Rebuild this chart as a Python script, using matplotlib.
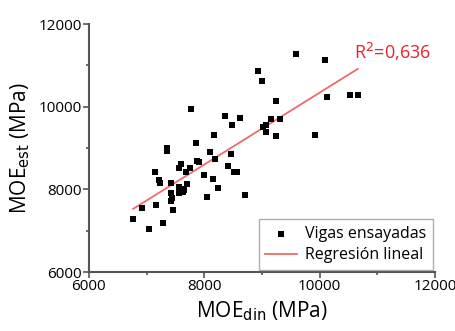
import matplotlib
matplotlib.use("Agg")
import matplotlib.pyplot as plt
from matplotlib.ticker import MultipleLocator

plt.rcParams['font.family'] = ['Open Sans', 'DejaVu Sans']

moe_din = [9596, 10099, 8932, 9001, 9243, 10130, 10525, 10661, 7778, 8360,
           8620, 8488, 9157, 9313, 9018, 9077, 9070, 9243, 9919, 8177,
           7858, 7356, 7345, 8107, 8459, 8182, 7882, 7910, 7588, 7564,
           7749, 8412, 7138, 7680, 8516, 8568, 7997, 8147, 7212, 7229,
           7420, 7692, 8246, 7553, 7588, 7645, 7425, 7564, 7633, 8055,
           8701, 7442, 7425, 6918, 7165, 7449, 6767, 7276, 7044]
moe_est = [11266, 11136, 10870, 10628, 10149, 10241, 10289, 10289, 9950, 9774,
           9718, 9549, 9708, 9694, 9508, 9549, 9387, 9283, 9314, 9307,
           9128, 9007, 8934, 8910, 8862, 8733, 8685, 8661, 8620, 8523,
           8509, 8557, 8419, 8419, 8419, 8419, 8339, 8257, 8218, 8160,
           8153, 8121, 8032, 8049, 8015, 7984, 7911, 7918, 7935, 7822,
           7855, 7797, 7717, 7555, 7613, 7507, 7282, 7193, 7040]
slope = 0.870
intercept = 1643
r2_label = "R$^2$=0,636"

fig = plt.figure(figsize=(4.56, 3.31), dpi=100)
ax = fig.add_axes([0.195, 0.178, 0.759, 0.749])

ax.scatter(moe_din, moe_est, marker='s', s=16, color='black', zorder=3,
           label='Vigas ensayadas', linewidths=0)
xmin, xmax = min(moe_din), max(moe_din)
ax.plot([xmin, xmax], [slope * xmin + intercept, slope * xmax + intercept],
        color='#f06a6a', lw=1.3, label='Regresión lineal', zorder=2)

ax.text(10600, 11320, r2_label, color='#e8242c', fontsize=13, va='center', ha='left')

ax.set_xlim(6000, 12000)
ax.set_ylim(6000, 12000)
ax.xaxis.set_major_locator(MultipleLocator(2000))
ax.yaxis.set_major_locator(MultipleLocator(2000))
ax.xaxis.set_minor_locator(MultipleLocator(1000))
ax.yaxis.set_minor_locator(MultipleLocator(1000))

for s in ['top', 'right']:
    ax.spines[s].set_visible(False)
for s in ['left', 'bottom']:
    ax.spines[s].set_color('#555555')
    ax.spines[s].set_linewidth(1.5)
ax.tick_params(which='major', direction='out', length=4, width=1.2, color='#555555',
               labelsize=11, pad=1)
ax.tick_params(which='minor', direction='out', length=2.5, width=1.2, color='#555555')

ax.set_xlabel('MOE$_{\\mathrm{din}}$ (MPa)', fontsize=15, labelpad=4)
ax.set_ylabel('MOE$_{\\mathrm{est}}$ (MPa)', fontsize=15, labelpad=5)

leg = ax.legend(loc='lower right', fontsize=11.5, frameon=True, fancybox=False,
                borderaxespad=0.15, handlelength=2.0, handletextpad=0.5,
                borderpad=0.4, labelspacing=0.35, markerscale=1.2)
leg.get_frame().set_edgecolor('#999999')
leg.get_frame().set_linewidth(1.0)

fig.savefig('out.png', dpi=100)
